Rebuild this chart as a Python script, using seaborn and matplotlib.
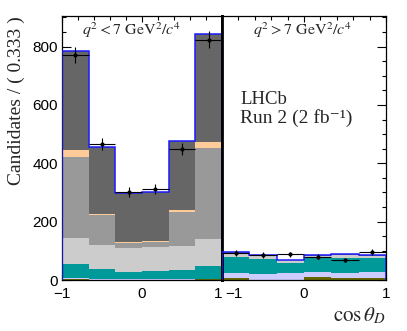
import numpy as np
import pandas as pd

import matplotlib

matplotlib.use("Agg")
import matplotlib.pyplot as plt  # noqa: E402
import matplotlib.transforms as mtransforms  # noqa: E402
from matplotlib.ticker import FixedLocator, MultipleLocator  # noqa: E402

import seaborn as sns  # noqa: E402

# --- binning in cos(theta_D) ---
bin_edges = [-1.0, -0.6667, -0.3333, 0.0, 0.3333, 0.6667, 1.0]

# stack order, top to bottom (seaborn puts the first hue level on top)
comp_names = ["signal", "peach", "mid_grey", "light_grey", "teal", "lavender", "olive"]
comp_colors = ["#666666", "#ffcc99", "#999999", "#cccccc", "#009999", "#ccccff", "#666600"]

# q2 < 7 GeV2/c4
low_signal = [342, 231, 167, 168, 237, 370]
low_peach = [21, 4, 2, 2, 6, 22]
low_mid_grey = [280, 102, 19, 19, 117, 312]
low_light_grey = [88, 83, 81, 81, 83, 91]
low_teal = [49, 34, 25, 28, 31, 44]
low_lavender = [3, 2, 2, 2, 2, 2]
low_olive = [3, 1, 1, 1, 1, 3]
low_data = [772, 466, 303, 312, 448, 823]
low_err = [28, 22, 17, 18, 21, 29]

# q2 > 7 GeV2/c4
high_signal = [3, 3, 1, 2, 2, 2]
high_peach = [0, 0, 0, 0, 0, 0]
high_mid_grey = [0, 0, 0, 0, 0, 0]
high_light_grey = [14, 11, 9, 9, 13, 9]
high_teal = [53, 52, 36, 46, 51, 48]
high_lavender = [17, 19, 22, 17, 15, 18]
high_olive = [8, 1, 1, 11, 8, 8]
high_data = [92, 86, 88, 80, 69, 97]
high_err = [10, 9, 9, 9, 8, 10]

SERIF = ["Liberation Serif", "DejaVu Serif"]
SANS = "Liberation Sans"


def draw_panel(ax, parts, data, err):
    edges = np.asarray(bin_edges)
    centers = 0.5 * (edges[:-1] + edges[1:])
    half = 0.5 * np.diff(edges)

    rows = []
    for name, vals in zip(comp_names, parts):
        for c, v in zip(centers, vals):
            rows.append({"x": c, "count": v, "comp": name})
    df = pd.DataFrame(rows)

    sns.histplot(
        data=df,
        x="x",
        weights="count",
        hue="comp",
        hue_order=comp_names,
        palette=dict(zip(comp_names, comp_colors)),
        multiple="stack",
        bins=list(bin_edges),
        element="step",
        fill=True,
        alpha=1,
        linewidth=0,
        legend=False,
        ax=ax,
    )

    # total fit outline
    total = np.sum(np.asarray(parts, dtype=float), axis=0)
    ax.stairs(total, edges, color="#1a1aff", linewidth=1.1, baseline=0, zorder=3)

    # data points
    ax.errorbar(
        centers, data, yerr=err, xerr=half, fmt="o", color="black",
        ms=2.0, elinewidth=0.8, capsize=0, zorder=4,
    )

    ax.set_xlim(-1, 1)
    ax.set_ylim(0, 905)
    ax.set_xlabel("")
    ax.set_ylabel("")
    ax.xaxis.set_major_locator(FixedLocator([-1, 0, 1]))
    ax.xaxis.set_minor_locator(MultipleLocator(0.2))
    ax.yaxis.set_major_locator(MultipleLocator(200))
    ax.yaxis.set_minor_locator(MultipleLocator(50))
    ax.tick_params(axis="both", which="both", direction="in", top=True, bottom=True,
                   labelsize=11, colors="black")
    ax.tick_params(axis="x", which="major", length=4, width=0.8, pad=5)
    ax.tick_params(axis="x", which="minor", length=3, width=0.8)
    ax.tick_params(axis="y", which="major", length=6.5, width=0.8, pad=3)
    ax.tick_params(axis="y", which="minor", length=3.2, width=0.8)
    for sp in ax.spines.values():
        sp.set_color("black")
        sp.set_linewidth(0.9)
    ax.grid(False)


sns.set_style("white")
plt.rcParams["font.family"] = [SANS, "DejaVu Sans"]
plt.rcParams["mathtext.fontset"] = "stix"

fig = plt.figure(figsize=(4.07, 3.31), dpi=100)
ax1 = fig.add_axes([62 / 407, 51 / 331, 160 / 407, 264 / 331])
ax2 = fig.add_axes([222 / 407, 51 / 331, 164 / 407, 264 / 331])

draw_panel(
    ax1,
    [low_signal, low_peach, low_mid_grey, low_light_grey, low_teal, low_lavender, low_olive],
    low_data, low_err,
)
draw_panel(
    ax2,
    [high_signal, high_peach, high_mid_grey, high_light_grey, high_teal, high_lavender, high_olive],
    high_data, high_err,
)

ax1.tick_params(axis="y", which="both", left=True, right=False)
ax2.tick_params(axis="y", which="both", left=False, right=True, labelleft=False)
ax1.spines["right"].set_linewidth(2.0)
ax2.spines["left"].set_linewidth(2.0)

ax1.set_xticklabels(["\u22121", "0", "1"])
ax2.set_xticklabels(["\u22121", "0", "1"])
ax1.get_xticklabels()[-1].set_ha("right")
lbl = ax2.get_xticklabels()[0]
lbl.set_ha("left")
lbl.set_transform(lbl.get_transform() + mtransforms.ScaledTranslation(3 / 100, 0, fig.dpi_scale_trans))

ax1.set_ylabel("Candidates / ( 0.333 )", fontfamily=SERIF, fontsize=14, loc="top")
ax1.yaxis.set_label_coords(-0.23, 1.0)

ax2.set_xlabel(r"$\cos\theta_D$", fontsize=15, loc="right")
ax2.xaxis.set_label_coords(1.0, -0.095)
ax2.xaxis.label.set_va("top")

ax1.text(0.436, 0.928, r"$q^2 < 7\ \mathrm{GeV}^2/c^4$", transform=ax1.transAxes,
         ha="center", va="baseline", fontsize=11.5, fontfamily=SERIF)
ax2.text(0.491, 0.928, r"$q^2 > 7\ \mathrm{GeV}^2/c^4$", transform=ax2.transAxes,
         ha="center", va="baseline", fontsize=11.5, fontfamily=SERIF)
ax2.text(0.11, 0.6655, "LHCb", transform=ax2.transAxes, ha="left", va="baseline",
         fontsize=13.5, fontfamily=SERIF)
ax2.text(0.11, 0.5936, "Run 2 (2 fb\u207b\u00b9)", transform=ax2.transAxes, ha="left",
         va="baseline", fontsize=14, fontfamily=SERIF)

fig.savefig("out.png", dpi=100)
plt.close(fig)
